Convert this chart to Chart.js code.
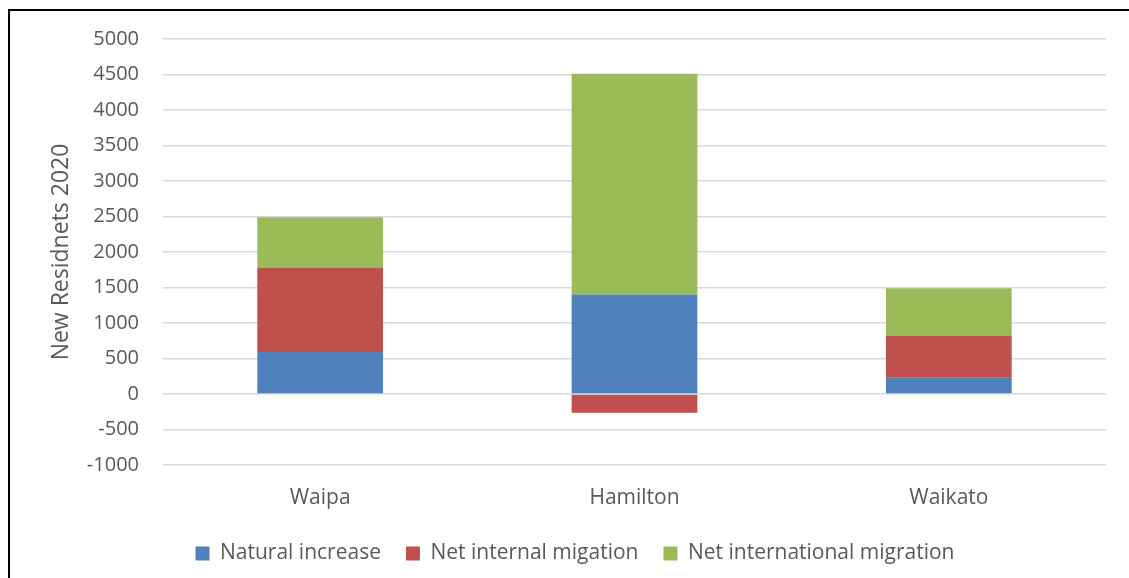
<!DOCTYPE html>
<html>
<head>
<meta charset="utf-8">
<script src="https://cdn.jsdelivr.net/npm/chart.js@4.4.1/dist/chart.umd.min.js"></script>
<style>
  html, body { margin: 0; padding: 0; background: #fff; }
  #wrap { position: relative; width: 1129px; height: 578px; overflow: hidden; }
  #marco {
    position: absolute; left: 8px; top: 9px; width: 1200px; height: 700px;
    border-top: 2px solid #000; border-left: 2px solid #000; pointer-events: none;
  }
  canvas { position: absolute; left: 0; top: 0; }
</style>
</head>
<body>
<div id="wrap">
  <canvas id="grafica" width="1129" height="578"></canvas>
  <div id="marco"></div>
</div>
<script>
// Datos de la gráfica
const distritos = ["Waipa", "Hamilton", "Waikato"];
const crecimientoNatural = [590, 1400, 230];
const migracionInterna = [1190, -265, 595];
const migracionInternacional = [710, 3110, 665];

const colorTexto = "#595959";
const fuente = "'Open Sans', 'Liberation Sans', sans-serif";
const margenInferior = 4;

const ctx = document.getElementById("grafica").getContext("2d");
new Chart(ctx, {
  type: "bar",
  data: {
    labels: distritos,
    datasets: [
      { label: "Natural increase", data: crecimientoNatural, backgroundColor: "#4F81BD" },
      { label: "Net internal migation", data: migracionInterna, backgroundColor: "#C0504D" },
      { label: "Net international migration", data: migracionInternacional, backgroundColor: "#9BBB59" },
    ],
  },
  options: {
    responsive: false,
    animation: false,
    layout: { padding: { left: 44, top: 39, right: 23, bottom: margenInferior } },
    datasets: { bar: { categoryPercentage: 1, barPercentage: 0.4 } },
    scales: {
      x: {
        stacked: true,
        grid: { display: false },
        border: { display: false },
        ticks: { color: colorTexto, font: { family: fuente, size: 21 }, padding: 12 },
        afterFit: (scale) => {
          scale.height = 113 - margenInferior - scale.chart.legend.height;
        },
      },
      y: {
        stacked: true,
        min: -1000,
        max: 5000,
        ticks: {
          stepSize: 500,
          color: colorTexto,
          font: { family: fuente, size: 20 },
          padding: 24,
          callback: (v) => String(v),
        },
        grid: { color: "#D9D9D9", lineWidth: 1.5, drawTicks: false },
        border: { display: false },
        title: {
          display: true,
          text: "New Residnets 2020",
          color: colorTexto,
          font: { family: fuente, size: 23 },
          padding: { top: 4, bottom: 0 },
        },
        afterFit: (scale) => {
          scale.width = 119;
        },
      },
    },
    plugins: {
      legend: {
        position: "bottom",
        labels: {
          color: colorTexto,
          font: { family: fuente, size: 21 },
          boxWidth: 14,
          boxHeight: 14,
          padding: 25,
        },
      },
      tooltip: { enabled: false },
    },
  },
});
</script>
</body>
</html>
